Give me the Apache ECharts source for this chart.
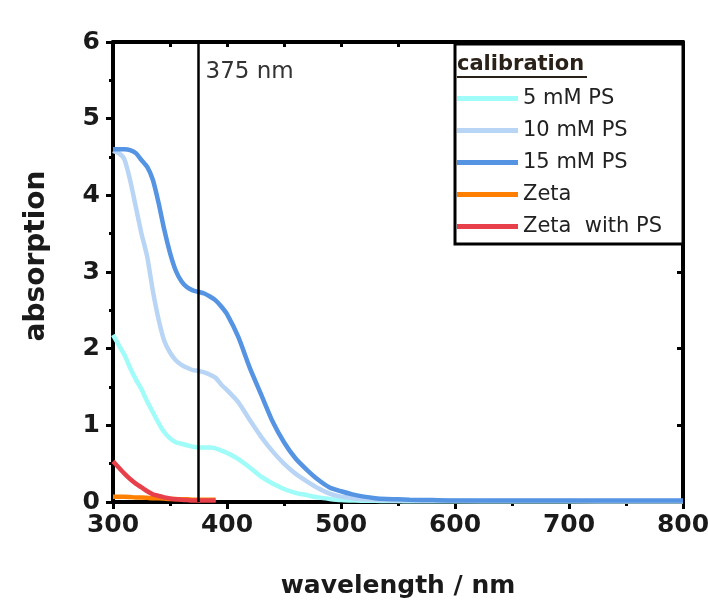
<!DOCTYPE html>
<html>
<head>
<meta charset="utf-8">
<script src="https://cdn.jsdelivr.net/npm/echarts@6/dist/echarts.min.js"></script>
<style>html,body{margin:0;padding:0;background:#fff}#c{width:708px;height:611px}</style>
</head>
<body>
<div id="c"></div>
<script>
const wavelengths = [300,305,310,315,320,325,330,335,340,345,350,355,360,365,370,375,380,385,390,395,400,410,420,430,440,450,460,470,480,490,500,510,520,530,540,550,560,580,600,650,700,750,800];
const ps5 = [2.18,2.05,1.92,1.75,1.60,1.47,1.31,1.17,1.03,0.91,0.83,0.78,0.76,0.74,0.72,0.71,0.71,0.71,0.70,0.67,0.64,0.56,0.45,0.33,0.24,0.17,0.12,0.09,0.06,0.04,0.025,0.02,0.015,0.015,0.012,0.012,0.01,0.01,0.01,0.01,0.01,0.01,0.01];
const ps10 = [4.58,4.55,4.47,4.20,3.85,3.50,3.20,2.75,2.38,2.10,1.95,1.85,1.79,1.75,1.72,1.71,1.69,1.66,1.62,1.53,1.46,1.30,1.07,0.85,0.66,0.50,0.37,0.27,0.18,0.11,0.07,0.05,0.035,0.03,0.025,0.02,0.02,0.015,0.015,0.012,0.012,0.01,0.01];
const ps15 = [4.60,4.60,4.60,4.59,4.55,4.46,4.37,4.20,3.90,3.55,3.25,3.02,2.88,2.80,2.76,2.74,2.72,2.68,2.63,2.55,2.45,2.15,1.75,1.40,1.05,0.78,0.57,0.42,0.29,0.19,0.14,0.10,0.07,0.05,0.04,0.035,0.03,0.025,0.02,0.02,0.02,0.02,0.02];
const zeta = [0.07,0.07,0.07,0.065,0.06,0.06,0.055,0.05,0.05,0.045,0.04,0.04,0.035,0.035,0.03,0.03,0.03,0.03,0.03];
const zetaPS = [0.53,0.45,0.37,0.30,0.24,0.19,0.14,0.10,0.08,0.06,0.045,0.035,0.03,0.025,0.02,0.02,0.02,0.02,0.02];
const seriesNames = ['5 mM PS','10 mM PS','15 mM PS','Zeta','Zeta  with PS'];
const seriesColors = ['#9ffcf8','#b9d5f5','#5593e3','#ff8000','#e8404a'];
const markerWavelength = 375;
const markerLabel = '375 nm';
const legendTitle = 'calibration';
const xTicks = {min:300, max:800, interval:100};
const yTicks = {min:0, max:6, interval:1};

const FONT = '"DejaVu Sans", sans-serif';
const pairs = vals => vals.map((v,i) => [wavelengths[i], v]);
const allValues = [ps5, ps10, ps15, zeta, zetaPS];

const chart = echarts.init(document.getElementById('c'), null, {renderer:'canvas'});
const axisLine = {show:true, onZero:false, lineStyle:{color:'#000', width:4}};
const series = allValues.map((vals,i) => ({
  name: seriesNames[i], type:'line', data: pairs(vals), showSymbol:false, smooth:0.2,
  lineStyle:{width:4.5, color:seriesColors[i]}, itemStyle:{color:seriesColors[i]}, z: 3+i
}));
series.push({
  name:'marker', type:'line', data:[[markerWavelength, yTicks.min],[markerWavelength, yTicks.max]],
  showSymbol:false, lineStyle:{width:2.5, color:'#000'}, z:10, silent:true
});

chart.setOption({
  animation:false,
  backgroundColor:'#fff',
  grid:{left:113, right:25, top:42, bottom:109, containLabel:false, outerBoundsMode:'none'},
  xAxis:[{
    type:'value', min:xTicks.min, max:xTicks.max, interval:xTicks.interval, position:'bottom',
    name:'wavelength / nm', nameLocation:'middle', nameGap:72,
    nameTextStyle:{fontFamily:FONT, fontWeight:'bold', fontSize:25, color:'#1a1a1a'},
    axisLine, axisTick:{show:true, inside:false, length:7, lineStyle:{width:3, color:'#000'}},
    minorTick:{show:true, splitNumber:2, length:4, lineStyle:{width:3, color:'#000'}},
    splitLine:{show:false}, minorSplitLine:{show:false},
    axisLabel:{fontFamily:FONT, fontWeight:'bold', fontSize:25, color:'#1a1a1a', margin:11}
  },{
    type:'value', min:xTicks.min, max:xTicks.max, interval:xTicks.interval, position:'top',
    axisLine, axisTick:{show:true, inside:true, length:5, lineStyle:{width:3, color:'#000'}},
    minorTick:{show:true, splitNumber:2, length:5, lineStyle:{width:3, color:'#000'}},
    splitLine:{show:false}, axisLabel:{show:false}
  }],
  yAxis:[{
    type:'value', min:yTicks.min, max:yTicks.max, interval:yTicks.interval, position:'left',
    name:'absorption', nameLocation:'middle', nameGap:62,
    nameTextStyle:{fontFamily:FONT, fontWeight:'bold', fontSize:28, color:'#1a1a1a', padding:[0,0,0,32]},
    axisLine, axisTick:{show:true, inside:false, length:7, lineStyle:{width:3, color:'#000'}},
    minorTick:{show:true, splitNumber:2, length:4, lineStyle:{width:3, color:'#000'}},
    splitLine:{show:false},
    axisLabel:{fontFamily:FONT, fontWeight:'bold', fontSize:25, color:'#1a1a1a', margin:13}
  },{
    type:'value', min:yTicks.min, max:yTicks.max, interval:yTicks.interval, position:'right',
    axisLine, axisTick:{show:true, inside:true, length:6, lineStyle:{width:3, color:'#000'}},
    splitLine:{show:false}, axisLabel:{show:false}
  }],
  legend:{
    data:seriesNames, orient:'vertical', left:457, top:88, itemGap:11, z:20, padding:0,
    itemWidth:61, itemHeight:5, icon:'rect',
    textStyle:{fontFamily:FONT, fontSize:21, color:'#222'}
  },
  series
});

// legend frame, title and marker label placed via the chart's own scales
const pTopRight = chart.convertToPixel({xAxisIndex:0, yAxisIndex:0}, [xTicks.max, yTicks.max]);
const pMarker = chart.convertToPixel({xAxisIndex:0, yAxisIndex:0}, [markerWavelength, yTicks.max]);
chart.setOption({
  graphic:[
    {type:'rect', z:5, shape:{x:455, y:pTopRight[1]+2, width:pTopRight[0]-455, height:200}, style:{fill:'#fff', stroke:'#000', lineWidth:3}},
    {type:'text', z:6, x:457, y:54, style:{text:legendTitle, font:'bold 21px '+FONT, fill:'#2a2218'}},
    {type:'line', z:6, shape:{x1:457, y1:77, x2:587, y2:77}, style:{stroke:'#2a2218', lineWidth:2}},
    {type:'text', z:20, x:pMarker[0]+7, y:pMarker[1]+19, style:{text:markerLabel, font:'23px '+FONT, fill:'#333'}}
  ]
});
</script>
</body>
</html>
